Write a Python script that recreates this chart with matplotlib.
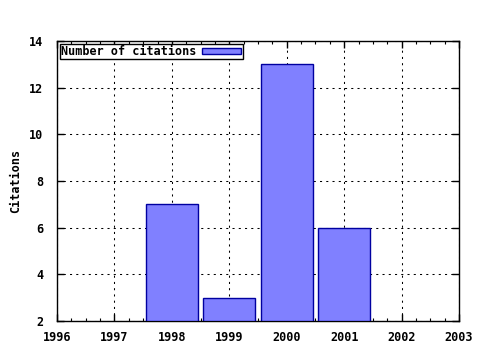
import matplotlib
matplotlib.use("Agg")
import matplotlib.pyplot as plt
from matplotlib.ticker import MultipleLocator

years = [1998, 1999, 2000, 2001]
citations = [7, 3, 13, 6]
xticks = [1996, 1997, 1998, 1999, 2000, 2001, 2002, 2003]
yticks = [2, 4, 6, 8, 10, 12, 14]

plt.rcParams['font.family'] = ['DejaVu Sans Mono']
plt.rcParams['font.weight'] = 'bold'
plt.rcParams['font.size'] = 8.5

fig = plt.figure(figsize=(4.8, 3.5), dpi=100)
ax = fig.add_axes([57/480, 1-321/350, (459-57)/480, (321-41)/350])

bottom = yticks[0]
ax.bar(years, [c - bottom for c in citations], bottom=bottom, width=0.9,
       color='#8080ff', edgecolor='#0000a0', linewidth=1, zorder=3,
       label='Number of citations')

ax.set_xlim(xticks[0], xticks[-1])
ax.set_ylim(yticks[0], yticks[-1])
ax.set_xticks(xticks)
ax.set_yticks(yticks)
ax.set_xticklabels([str(x) for x in xticks], fontweight='bold')
ax.set_yticklabels([str(y) for y in yticks], fontweight='bold')
ax.xaxis.set_minor_locator(MultipleLocator(0.25))
ax.tick_params(which='both', direction='in', top=True, right=True, color='black')
ax.tick_params(which='major', length=5, width=1)
ax.tick_params(axis='x', which='major', pad=7)
ax.tick_params(axis='y', which='major', pad=10)
ax.tick_params(which='minor', length=2.5, width=0.8)
ax.grid(True, which='major', linestyle=(0, (2, 4)), color='black', linewidth=0.75, zorder=1)
for s in ax.spines.values():
    s.set_linewidth(1)
    s.set_color('black')

ax.set_ylabel('Citations', fontweight='bold', labelpad=5)

leg = ax.legend(loc='upper left', fancybox=False, framealpha=1, edgecolor='black',
                borderpad=0.1, handlelength=3.3, handleheight=0.5,
                borderaxespad=0.25, markerfirst=False, handletextpad=0.5)
leg.get_frame().set_linewidth(1)

fig.savefig('out.png', dpi=100)
